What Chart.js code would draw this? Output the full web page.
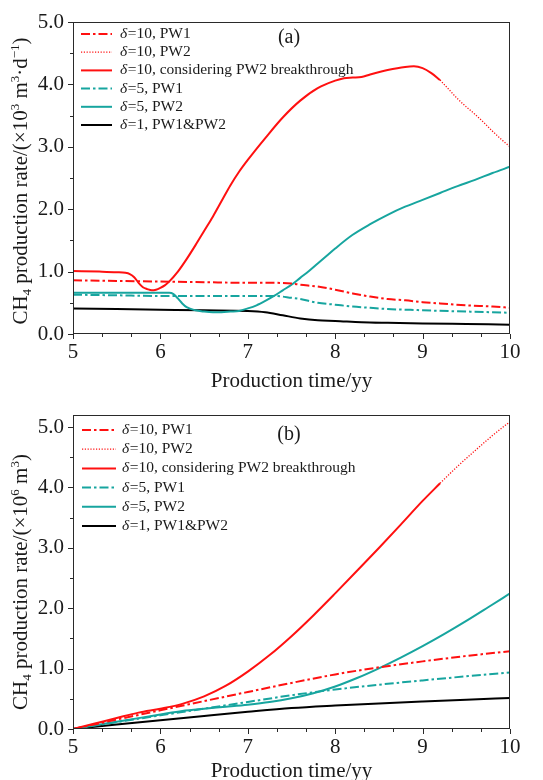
<!DOCTYPE html>
<html><head><meta charset="utf-8">
<script src="https://cdn.jsdelivr.net/npm/chart.js@4.4.1/dist/chart.umd.min.js"></script>
<style>
html,body{margin:0;padding:0;background:#fff;}
#wrap{position:relative;width:543px;height:780px;overflow:hidden;background:#fff;}
canvas{position:absolute;left:0;}
</style></head><body>
<div id="wrap">
<canvas id="ca" width="543" height="400" style="top:0"></canvas>
<canvas id="cb" width="543" height="390" style="top:390px"></canvas>
</div>
<script>
// ---------- labels ----------
const legendLabels = ['δ=10, PW1', 'δ=10, PW2', 'δ=10, considering PW2 breakthrough', 'δ=5, PW1', 'δ=5, PW2', 'δ=1, PW1&PW2'];
const panelLabels = ['(a)', '(b)'];
const xAxisTitle = 'Production time/yy';
const xTickValues = [5, 6, 7, 8, 9, 10];
const yTickValuesA = [0, 1, 2, 3, 4, 5];
const yTickValuesB = [0, 1, 2, 3, 4, 5];

// ---------- panel (a): production rate (x10^3 m3/d) ----------
const timeA_d10PW1 = [5, 5.5, 6, 6.5, 7, 7.3, 7.5, 7.6, 7.8, 8.0, 8.2, 8.4, 8.6, 8.8, 9.0, 9.2, 9.5, 9.8, 10];
const rateA_d10PW1 = [0.86, 0.85, 0.84, 0.83, 0.82, 0.82, 0.81, 0.79, 0.76, 0.71, 0.65, 0.60, 0.56, 0.54, 0.51, 0.49, 0.46, 0.44, 0.42];

const timeA_d10PW2 = [9.2, 9.3, 9.4, 9.5, 9.6, 9.7, 9.8, 9.9, 10];
const rateA_d10PW2 = [4.07, 3.92, 3.77, 3.64, 3.52, 3.39, 3.25, 3.12, 3.0];

const timeA_d10BT = [5, 5.3, 5.5, 5.6, 5.65, 5.7, 5.75, 5.8, 5.85, 5.9, 5.95, 6.0, 6.05, 6.1, 6.2, 6.3, 6.4, 6.5, 6.6, 6.7, 6.8, 6.9, 7.0, 7.2, 7.4, 7.6, 7.8, 8.0, 8.1, 8.2, 8.3, 8.4, 8.6, 8.8, 8.9, 9.0, 9.1, 9.2];
const rateA_d10BT = [1.01, 1.0, 0.99, 0.98, 0.96, 0.91, 0.82, 0.75, 0.72, 0.70, 0.71, 0.74, 0.78, 0.84, 1.0, 1.2, 1.42, 1.65, 1.88, 2.13, 2.38, 2.6, 2.79, 3.14, 3.47, 3.74, 3.94, 4.06, 4.1, 4.11, 4.12, 4.16, 4.23, 4.28, 4.29, 4.26, 4.18, 4.07];

const timeA_d5PW1 = [5, 5.5, 6, 6.5, 7, 7.3, 7.5, 7.6, 7.8, 8.0, 8.2, 8.4, 8.6, 8.8, 9.0, 9.5, 10];
const rateA_d5PW1 = [0.63, 0.62, 0.61, 0.61, 0.61, 0.61, 0.58, 0.56, 0.50, 0.47, 0.44, 0.42, 0.40, 0.39, 0.38, 0.36, 0.34];

const timeA_d5PW2 = [5, 5.5, 6.0, 6.1, 6.15, 6.2, 6.25, 6.3, 6.4, 6.5, 6.6, 6.7, 6.8, 6.9, 7.0, 7.1, 7.2, 7.3, 7.4, 7.5, 7.6, 7.7, 7.8, 7.9, 8.0, 8.2, 8.4, 8.6, 8.8, 9.0, 9.2, 9.4, 9.6, 9.8, 10];
const rateA_d5PW2 = [0.66, 0.66, 0.66, 0.66, 0.64, 0.57, 0.49, 0.43, 0.38, 0.36, 0.35, 0.35, 0.36, 0.37, 0.41, 0.46, 0.53, 0.61, 0.70, 0.79, 0.90, 1.01, 1.13, 1.25, 1.37, 1.59, 1.76, 1.91, 2.04, 2.15, 2.26, 2.37, 2.47, 2.58, 2.68];

const timeA_d1 = [5, 5.5, 6, 6.5, 7, 7.2, 7.4, 7.6, 7.8, 8.0, 8.3, 8.6, 9.0, 9.5, 10];
const rateA_d1 = [0.41, 0.40, 0.39, 0.38, 0.37, 0.35, 0.30, 0.25, 0.22, 0.21, 0.19, 0.18, 0.17, 0.16, 0.15];

// ---------- panel (b): cumulative production (x10^6 m3) ----------
const timeB_d10PW1 = [5, 5.5, 6, 6.5, 7, 7.5, 8, 8.5, 9, 9.5, 10];
const cumB_d10PW1 = [0, 0.156, 0.31, 0.462, 0.613, 0.763, 0.904, 1.021, 1.12, 1.209, 1.289];

const timeB_d10PW2 = [9.2, 9.4, 9.6, 9.8, 10];
const cumB_d10PW2 = [4.07, 4.35, 4.61, 4.86, 5.09];

const timeB_d10BT = [5, 5.25, 5.5, 5.75, 6, 6.25, 6.5, 6.75, 7, 7.25, 7.5, 7.75, 8, 8.25, 8.5, 8.75, 9, 9.2];
const cumB_d10BT = [0, 0.091, 0.182, 0.271, 0.336, 0.416, 0.54, 0.717, 0.95, 1.224, 1.537, 1.881, 2.246, 2.62, 2.998, 3.385, 3.777, 4.07];

const timeB_d5PW1 = [5, 5.5, 6, 6.5, 7, 7.5, 8, 8.5, 9, 9.5, 10];
const cumB_d5PW1 = [0, 0.114, 0.226, 0.337, 0.448, 0.559, 0.654, 0.734, 0.805, 0.873, 0.937];

const timeB_d5PW2 = [5, 5.25, 5.5, 5.75, 6, 6.25, 6.5, 6.75, 7, 7.25, 7.5, 7.75, 8, 8.25, 8.5, 8.75, 9, 9.25, 9.5, 9.75, 10];
const cumB_d5PW2 = [0, 0.06, 0.12, 0.18, 0.24, 0.299, 0.336, 0.368, 0.402, 0.446, 0.508, 0.592, 0.704, 0.844, 1.005, 1.182, 1.372, 1.575, 1.79, 2.016, 2.245];

const timeB_d1 = [5, 5.5, 6, 6.5, 7, 7.5, 8, 8.5, 9, 9.5, 10];
const cumB_d1 = [0, 0.074, 0.146, 0.216, 0.284, 0.346, 0.388, 0.424, 0.456, 0.486, 0.514];

// ---------- styling ----------
const FAM = "'Liberation Serif', 'Times New Roman', serif";
const RED = '#ff1010';
const TEAL = '#17a59f';
const BLACK = '#000000';
const TXT = '#1a1a1a';
const DASHDOT = [9, 3, 2.5, 3];
const DOT = [1.2, 1.6];

Chart.defaults.font.family = FAM;
Chart.defaults.color = TXT;

function pts(xs, ys) { return xs.map((x, i) => ({ x: x, y: ys[i] })); }

function ds(label, xs, ys, color, dash, width) {
  return {
    label: label, data: pts(xs, ys), borderColor: color, backgroundColor: color,
    borderDash: dash, borderWidth: width, showLine: true, pointRadius: 0,
    pointHoverRadius: 0, fill: false, cubicInterpolationMode: 'monotone', borderCapStyle: 'butt'
  };
}

function drawYTitle(ctx, cx, cy, segs, fs) {
  ctx.save();
  ctx.translate(cx, cy);
  ctx.rotate(-Math.PI / 2);
  ctx.fillStyle = TXT;
  ctx.textBaseline = 'alphabetic';
  ctx.textAlign = 'left';
  const small = Math.round(fs * 0.62);
  let total = 0;
  const w = segs.map(s => {
    ctx.font = (s.k === 'n' ? fs : small) + 'px ' + FAM;
    const m = ctx.measureText(s.t).width;
    total += m; return m;
  });
  let x = -total / 2;
  segs.forEach((s, i) => {
    ctx.font = (s.k === 'n' ? fs : small) + 'px ' + FAM;
    const dy = s.k === 'sub' ? 4 : (s.k === 'sup' ? -8 : 0);
    ctx.fillText(s.t, x, dy);
    x += w[i];
  });
  ctx.restore();
}

function makeDecor(cfg) {
  return {
    id: 'decor',
    afterDraw(chart) {
      const ctx = chart.ctx, ca = chart.chartArea;
      const xs = chart.scales.x, ys = chart.scales.y;
      ctx.save();
      ctx.strokeStyle = '#2a2a2a';
      ctx.lineWidth = 1;
      ctx.setLineDash([]);
      ctx.strokeRect(ca.left + 0.5, ca.top + 0.5, ca.right - ca.left - 1, ca.bottom - ca.top - 1);
      ctx.beginPath();
      for (let k = 0; k <= 15; k++) {
        const v = 5 + k / 3;
        const px = Math.round(xs.getPixelForValue(v)) + 0.5;
        const len = (k % 3 === 0) ? 5 : 3;
        ctx.moveTo(px, ca.bottom);
        ctx.lineTo(px, ca.bottom + len);
      }
      for (let k = 0; k <= 10; k++) {
        const v = k * 0.5;
        const py = Math.round(ys.getPixelForValue(v)) + 0.5;
        const len = (k % 2 === 0) ? 5 : 3;
        ctx.moveTo(ca.left, py);
        ctx.lineTo(ca.left - len, py);
      }
      ctx.stroke();

      // legend
      const dsets = chart.data.datasets;
      for (let i = 0; i < legendLabels.length; i++) {
        const d = dsets[i];
        const yy = cfg.legY0 + i * cfg.legDy;
        ctx.beginPath();
        ctx.strokeStyle = d.borderColor;
        ctx.lineWidth = d.borderWidth;
        ctx.setLineDash(d.borderDash || []);
        ctx.moveTo(cfg.legX0, yy);
        ctx.lineTo(cfg.legX1, yy);
        ctx.stroke();
        ctx.setLineDash([]);
        const lab = legendLabels[i];
        ctx.fillStyle = TXT;
        ctx.textBaseline = 'middle';
        ctx.textAlign = 'left';
        ctx.font = 'italic 15.5px ' + FAM;
        ctx.fillText(lab[0], cfg.legTx, yy);
        const w0 = ctx.measureText(lab[0]).width;
        ctx.font = '15.5px ' + FAM;
        ctx.fillText(lab.slice(1), cfg.legTx + w0 + 0.5, yy);
      }

      // panel label
      ctx.font = '20px ' + FAM;
      ctx.textAlign = 'center';
      ctx.textBaseline = 'middle';
      ctx.fillStyle = TXT;
      ctx.fillText(cfg.panel, cfg.panelX, cfg.panelY);

      // x title
      ctx.font = '21px ' + FAM;
      ctx.textBaseline = 'alphabetic';
      ctx.fillText(xAxisTitle, (ca.left + ca.right) / 2, cfg.xTitleY);

      // y title
      drawYTitle(ctx, cfg.yTitleX, cfg.yTitleY, cfg.ySegs, 21);
      ctx.restore();
    }
  };
}

function makeChart(id, datasets, ymax, yTicks, padTop, xHeight, cfg) {
  return new Chart(document.getElementById(id), {
    type: 'scatter',
    data: { datasets: datasets },
    options: {
      responsive: false,
      animation: false,
      devicePixelRatio: 1,
      layout: { padding: { left: 0, right: 33, top: padTop, bottom: 0 } },
      plugins: { legend: { display: false }, tooltip: { enabled: false } },
      scales: {
        x: {
          type: 'linear', min: 5, max: 10,
          grid: { display: false, drawTicks: false },
          border: { display: false },
          afterFit(s) { s.height = xHeight; },
          afterBuildTicks(s) { s.ticks = xTickValues.map(v => ({ value: v })); },
          ticks: { font: { size: 21, family: FAM }, color: TXT, padding: 6, maxRotation: 0, autoSkip: false,
            callback: v => String(v) }
        },
        y: {
          type: 'linear', min: 0, max: ymax,
          grid: { display: false, drawTicks: false },
          border: { display: false },
          afterFit(s) { s.width = 73; },
          afterBuildTicks(s) { s.ticks = yTicks.map(v => ({ value: v })); },
          ticks: { font: { size: 21, family: FAM }, color: TXT, padding: 9,
            callback: v => Number(v).toFixed(1) }
        }
      }
    },
    plugins: [makeDecor(cfg)]
  });
}

const dsA = [
  ds(legendLabels[0], timeA_d10PW1, rateA_d10PW1, RED, DASHDOT, 2),
  ds(legendLabels[1], timeA_d10PW2, rateA_d10PW2, RED, DOT, 1.3),
  ds(legendLabels[2], timeA_d10BT, rateA_d10BT, RED, [], 2),
  ds(legendLabels[3], timeA_d5PW1, rateA_d5PW1, TEAL, DASHDOT, 2),
  ds(legendLabels[4], timeA_d5PW2, rateA_d5PW2, TEAL, [], 2),
  ds(legendLabels[5], timeA_d1, rateA_d1, BLACK, [], 2)
];
const dsB = [
  ds(legendLabels[0], timeB_d10PW1, cumB_d10PW1, RED, DASHDOT, 2),
  ds(legendLabels[1], timeB_d10PW2, cumB_d10PW2, RED, DOT, 1.3),
  ds(legendLabels[2], timeB_d10BT, cumB_d10BT, RED, [], 2),
  ds(legendLabels[3], timeB_d5PW1, cumB_d5PW1, TEAL, DASHDOT, 2),
  ds(legendLabels[4], timeB_d5PW2, cumB_d5PW2, TEAL, [], 2),
  ds(legendLabels[5], timeB_d1, cumB_d1, BLACK, [], 2)
];

makeChart('ca', dsA, 5, yTickValuesA, 22, 400 - 334, {
  legY0: 34, legDy: 18.2, legX0: 81, legX1: 112, legTx: 120,
  panel: panelLabels[0], panelX: 289, panelY: 38,
  xTitleY: 387, yTitleX: 27, yTitleY: 181,
  ySegs: [{ t: 'CH', k: 'n' }, { t: '4', k: 'sub' }, { t: ' production rate/(×10', k: 'n' }, { t: '3', k: 'sup' },
          { t: ' m', k: 'n' }, { t: '3', k: 'sup' }, { t: '·d', k: 'n' }, { t: '−1', k: 'sup' }, { t: ')', k: 'n' }]
});
makeChart('cb', dsB, 5.2, yTickValuesB, 25, 390 - 339, {
  legY0: 40, legDy: 19.2, legX0: 82, legX1: 116, legTx: 122,
  panel: panelLabels[1], panelX: 289, panelY: 45,
  xTitleY: 387, yTitleX: 27, yTitleY: 192,
  ySegs: [{ t: 'CH', k: 'n' }, { t: '4', k: 'sub' }, { t: ' production rate/(×10', k: 'n' }, { t: '6', k: 'sup' },
          { t: ' m', k: 'n' }, { t: '3', k: 'sup' }, { t: ')', k: 'n' }]
});
</script>
</body></html>
